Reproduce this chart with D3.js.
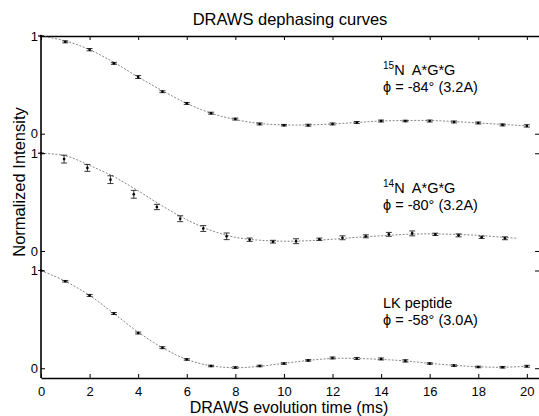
<html>
<head>
	<meta http-equiv="Content-Type" content="text/html; charset=utf-8" />
	<script src="https://cdnjs.cloudflare.com/ajax/libs/d3/7.8.5/d3.min.js" charset="utf-8"></script>
	<style type="text/css">
	body {
	  margin: 0;
	  background-color: white;
	}
	svg text {
	  font-family: "Liberation Sans", Arial, Helvetica, sans-serif;
	  fill: black;
	}
	.axis path, .axis line {
	  stroke: black;
	}
	</style>
</head>
<body>

	<svg width="539" height="416" version="1.1" xmlns="http://www.w3.org/2000/svg"></svg>

	<script type="text/javascript">
		// 数据：三条去相位曲线
		var v_Times15N  = [0, 1, 2, 3, 4, 5, 6, 7, 8, 9, 10, 11, 12, 13, 14, 15, 16, 17, 18, 19, 20];
		var v_Values15N = [1.0, 0.94, 0.86, 0.72, 0.58, 0.43, 0.31, 0.21, 0.15, 0.10, 0.087, 0.087, 0.10, 0.115, 0.13, 0.13, 0.13, 0.12, 0.11, 0.09, 0.08];
		var v_Errors15N = [0, 0.01, 0.012, 0.01, 0.015, 0.01, 0.01, 0.01, 0.01, 0.01, 0.008, 0.01, 0.01, 0.01, 0.01, 0.008, 0.01, 0.01, 0.01, 0.01, 0.012];
		var v_Fit15N    = [1.0, 0.95, 0.86, 0.73, 0.58, 0.44, 0.31, 0.21, 0.145, 0.105, 0.09, 0.09, 0.10, 0.115, 0.13, 0.135, 0.135, 0.125, 0.11, 0.095, 0.08];

		var v_Times14N  = [0, 0.95, 1.91, 2.86, 3.82, 4.77, 5.73, 6.68, 7.64, 8.59, 9.55, 10.5, 11.46, 12.41, 13.37, 14.32, 15.28, 16.23, 17.19, 18.14, 19.1];
		var v_Values14N = [1.0, 0.94, 0.85, 0.73, 0.58, 0.45, 0.33, 0.23, 0.15, 0.115, 0.095, 0.10, 0.12, 0.135, 0.15, 0.17, 0.18, 0.17, 0.16, 0.14, 0.13];
		var v_Errors14N = [0, 0.04, 0.035, 0.04, 0.04, 0.027, 0.03, 0.03, 0.034, 0.017, 0.014, 0.025, 0.012, 0.02, 0.015, 0.02, 0.025, 0.012, 0.015, 0.012, 0.015];
		var v_FitTimes14N = [0, 1, 2, 3, 4, 5, 6, 7, 8, 9, 10, 11, 12, 13, 14, 15, 16, 17, 18, 19, 19.6];
		var v_Fit14N    = [1.0, 0.975, 0.875, 0.76, 0.615, 0.46, 0.32, 0.21, 0.14, 0.11, 0.10, 0.105, 0.12, 0.14, 0.155, 0.17, 0.175, 0.17, 0.16, 0.14, 0.13];

		var v_TimesLK   = [0, 1, 2, 3, 4, 5, 6, 7, 8, 9, 10, 11, 12, 13, 14, 15, 16, 17, 18, 19, 20];
		var v_ValuesLK  = [1.0, 0.89, 0.745, 0.56, 0.36, 0.21, 0.09, 0.023, 0.007, 0.023, 0.048, 0.08, 0.105, 0.10, 0.095, 0.075, 0.048, 0.027, 0.013, 0.01, 0.02];
		var v_ErrorsLK  = [0, 0.008, 0.01, 0.01, 0.01, 0.01, 0.008, 0.008, 0.008, 0.008, 0.008, 0.008, 0.01, 0.01, 0.01, 0.012, 0.008, 0.008, 0.008, 0.008, 0.01];
		var v_FitLK     = [1.0, 0.89, 0.745, 0.56, 0.37, 0.21, 0.09, 0.025, 0.005, 0.02, 0.05, 0.08, 0.10, 0.10, 0.09, 0.075, 0.05, 0.03, 0.015, 0.01, 0.02];

		var v_XTicks    = [0, 2, 4, 6, 8, 10, 12, 14, 16, 18, 20];
		var v_YTicks    = [0, 1];
		var v_Offsets   = [2.4, 1.2, 0];   // 每条曲线在纵轴上的平移
		var v_Labels    = [["15", "N  A*G*G", "\u03d5 = -84\u00b0 (3.2A)"],
		                   ["14", "N  A*G*G", "\u03d5 = -80\u00b0 (3.2A)"],
		                   ["",   "LK peptide", "\u03d5 = -58\u00b0 (3.0A)"]];
		var v_LabelY    = [75, 193, 308];

		var v_SVG     = d3.select("svg");
		var v_Padding = {top:36 ,right:0 ,bottom:38 ,left:41};
		var v_Width   = 539;
		var v_Height  = 416;

		var v_xScale  = d3.scaleLinear()
		                  .domain([0 ,20.5])
		                  .range([v_Padding.left ,v_Width - v_Padding.right]);
		var v_yScale  = d3.scaleLinear()
		                  .domain([-0.1 ,3.4])
		                  .range([v_Height - v_Padding.bottom ,v_Padding.top]);


		function f_DrawPanel(i_Index ,i_Times ,i_Values ,i_Errors ,i_FitTimes ,i_Fit)
		{
			var v_Off    = v_Offsets[i_Index];
			var v_PScale = d3.scaleLinear()
			                 .domain([0 ,1])
			                 .range([v_yScale(v_Off) ,v_yScale(v_Off + 1)]);
			var v_G      = v_SVG.append("g");

			// 拟合曲线
			var v_Line = d3.line()
			               .x(function(d){ return v_xScale(d[0]); })
			               .y(function(d){ return v_PScale(d[1]); })
			               .curve(d3.curveCatmullRom);
			v_G.append("path")
			   .datum(d3.zip(i_FitTimes ,i_Fit))
			   .attr("d" ,v_Line)
			   .attr("fill" ,"none")
			   .attr("stroke" ,"#666")
			   .attr("stroke-width" ,0.8)
			   .attr("stroke-dasharray" ,"2,1.6");

			var v_Pts = d3.zip(i_Times ,i_Values ,i_Errors);

			// 误差棒
			v_G.selectAll(".err").data(v_Pts).enter().append("path")
			   .attr("fill" ,"none")
			   .attr("stroke" ,"#222")
			   .attr("stroke-width" ,0.9)
			   .attr("d" ,function(d)
			   {
				   var x  = v_xScale(d[0]);
				   var y1 = v_PScale(d[1] + d[2]);
				   var y2 = v_PScale(d[1] - d[2]);
				   return "M" + (x - 3) + "," + y1 + "H" + (x + 3) +
				          "M" + x + "," + y1 + "V" + y2 +
				          "M" + (x - 3) + "," + y2 + "H" + (x + 3);
			   });

			// 数据点
			v_G.selectAll(".dot").data(v_Pts).enter().append("circle")
			   .attr("cx" ,function(d){ return v_xScale(d[0]); })
			   .attr("cy" ,function(d){ return v_PScale(d[1]); })
			   .attr("r" ,1.3)
			   .attr("fill" ,"black");

			// 左侧刻度
			v_SVG.append("g")
			     .attr("class" ,"axis")
			     .attr("transform" ,"translate(" + v_Padding.left + ",0)")
			     .call(d3.axisLeft(v_PScale).tickValues(v_YTicks).tickSizeInner(-4).tickSizeOuter(0).tickPadding(3).tickFormat(d3.format("d")))
			     .call(function(g){ g.select(".domain").remove(); })
			     .selectAll("text")
			     .attr("font-size" ,"13px")
			     .attr("font-family" ,"Liberation Sans, Arial, sans-serif");

			// 右侧刻度
			v_SVG.append("g")
			     .attr("class" ,"axis")
			     .attr("transform" ,"translate(" + v_Width + ",0)")
			     .call(d3.axisRight(v_PScale).tickValues(v_YTicks).tickSizeInner(-4).tickSizeOuter(0).tickFormat(""))
			     .call(function(g){ g.select(".domain").remove(); });

			// 文字标注
			var v_Lab = v_Labels[i_Index];
			var v_T1  = v_SVG.append("text")
			                 .attr("x" ,383)
			                 .attr("y" ,v_LabelY[i_Index])
			                 .attr("font-size" ,"14.5px")
			                 .style("white-space" ,"pre");
			if ( v_Lab[0] != "" )
			{
				v_T1.append("tspan").attr("font-size" ,"10px").attr("dy" ,-6).text(v_Lab[0]);
				v_T1.append("tspan").attr("dy" ,6).text(v_Lab[1]);
			}
			else
			{
				v_T1.text(v_Lab[1]);
			}
			v_SVG.append("text")
			     .attr("x" ,383)
			     .attr("y" ,v_LabelY[i_Index] + 17)
			     .attr("font-size" ,"14.5px")
			     .style("white-space" ,"pre")
			     .text(v_Lab[2]);
		}


		// 底部 x 轴
		v_SVG.append("g")
		     .attr("class" ,"axis")
		     .attr("transform" ,"translate(0," + (v_Height - v_Padding.bottom) + ")")
		     .call(d3.axisBottom(v_xScale).tickValues(v_XTicks).tickSizeInner(-4).tickSizeOuter(0).tickPadding(9))
		     .call(function(g){ g.select(".domain").attr("stroke-width" ,1.6); })
		     .selectAll("text")
		     .attr("font-size" ,"13px")
		     .attr("font-family" ,"Liberation Sans, Arial, sans-serif");

		// 顶部边框
		v_SVG.append("g")
		     .attr("class" ,"axis")
		     .attr("transform" ,"translate(0," + v_Padding.top + ")")
		     .call(d3.axisTop(v_xScale).tickValues(v_XTicks).tickSizeInner(-4).tickSizeOuter(0).tickFormat(""))
		     .call(function(g){ g.select(".domain").attr("stroke-width" ,1.3); });

		// 左侧竖线
		v_SVG.append("line")
		     .attr("x1" ,v_Padding.left).attr("x2" ,v_Padding.left)
		     .attr("y1" ,v_Padding.top).attr("y2" ,v_Height - v_Padding.bottom)
		     .attr("stroke" ,"black")
		     .attr("stroke-width" ,1.6);

		f_DrawPanel(0 ,v_Times15N ,v_Values15N ,v_Errors15N ,v_Times15N ,v_Fit15N);
		f_DrawPanel(1 ,v_Times14N ,v_Values14N ,v_Errors14N ,v_FitTimes14N ,v_Fit14N);
		f_DrawPanel(2 ,v_TimesLK ,v_ValuesLK ,v_ErrorsLK ,v_TimesLK ,v_FitLK);

		// 标题与轴标签
		v_SVG.append("text")
		     .attr("x" ,290).attr("y" ,25)
		     .attr("text-anchor" ,"middle")
		     .attr("font-size" ,"16.5px")
		     .text("DRAWS dephasing curves");

		v_SVG.append("text")
		     .attr("x" ,289).attr("y" ,413)
		     .attr("text-anchor" ,"middle")
		     .attr("font-size" ,"16px")
		     .text("DRAWS evolution time (ms)");

		v_SVG.append("text")
		     .attr("transform" ,"translate(25,182) rotate(-90)")
		     .attr("text-anchor" ,"middle")
		     .attr("font-size" ,"16.5px")
		     .text("Normalized Intensity");
	</script>

</body>
</html>
